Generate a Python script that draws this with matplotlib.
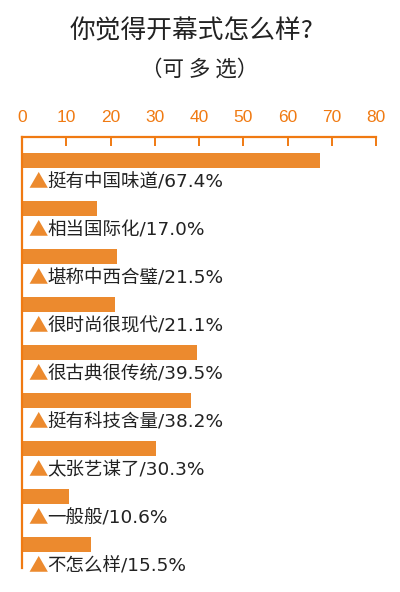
import matplotlib
matplotlib.use("Agg")
import matplotlib.pyplot as plt

plt.rcParams['font.family'] = ['Noto Sans CJK SC', 'DejaVu Sans']

title = "你觉得开幕式怎么样?"
subtitle = "（可 多 选）"
labels = ["挺有中国味道", "相当国际化", "堪称中西合璧", "很时尚很现代",
          "很古典很传统", "挺有科技含量", "太张艺谋了", "一般般", "不怎么样"]
values = [67.4, 17.0, 21.5, 21.1, 39.5, 38.2, 30.3, 10.6, 15.5]
xticks = [0, 10, 20, 30, 40, 50, 60, 70, 80]

axis_col = "#F07A12"
bar_col = "#EC8A2E"

fig = plt.figure(figsize=(4, 5.92), dpi=100)
ax = fig.add_axes([0.055, 0.0405, 0.885, 0.728])

ypos = list(range(len(values)))
ax.barh(ypos, values, height=0.3, color=bar_col)

ax.set_xlim(0, 80)
ax.set_ylim(8.49, -0.49)
ax.set_xticks(xticks)
ax.set_yticks([])
ax.xaxis.tick_top()
ax.tick_params(axis='x', direction='in', length=6.5, width=1.4, color=axis_col,
               labelcolor=axis_col, labelsize=12.5, pad=9)
for t in ax.get_xticklabels():
    t.set_family('Liberation Sans')
for s in ['right', 'bottom']:
    ax.spines[s].set_visible(False)
for s in ['top', 'left']:
    ax.spines[s].set_color(axis_col)
    ax.spines[s].set_linewidth(1.6)

for y, lab, v in zip(ypos, labels, values):
    ax.annotate("▲", xy=(0, y + 0.45), xytext=(4.5, 0), textcoords='offset points',
                ha='left', va='center', fontsize=14, color=bar_col)
    ax.annotate(f"{lab}/{v:.1f}%", xy=(0, y + 0.45), xytext=(18, 0),
                textcoords='offset points', ha='left', va='center',
                fontsize=13.3, color="#222222", family=['DejaVu Sans', 'Noto Sans CJK SC'])

fig.text(0.48, 0.947, title, ha='center', va='center', fontsize=18.5, color="#222222")
fig.text(0.5, 0.882, subtitle, ha='center', va='center', fontsize=15.5, color="#222222")

fig.savefig("out.png", dpi=100)
